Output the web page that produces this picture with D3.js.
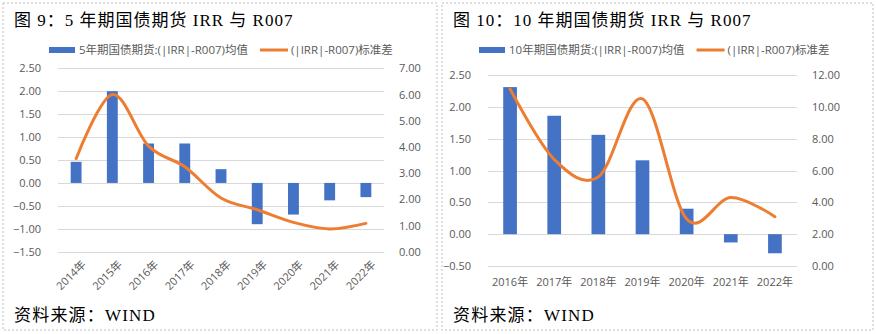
<!DOCTYPE html>
<html><head><meta charset="utf-8">
<script src="https://cdn.jsdelivr.net/npm/d3@7/dist/d3.min.js"></script>
<style>
body{margin:0;background:#fff;}
svg{display:block;}
</style></head>
<body>
<svg id="c" width="876" height="334"></svg>
<script>
// ---- data ----
const cats5 = ["2014年","2015年","2016年","2017年","2018年","2019年","2020年","2021年","2022年"];
const mean5 = [0.46, 2.00, 0.86, 0.86, 0.30, -0.90, -0.69, -0.38, -0.31];
const std5  = [3.55, 6.00, 4.03, 3.24, 2.05, 1.60, 1.12, 0.87, 1.08];
const leftTicks5 = [2.5, 2.0, 1.5, 1.0, 0.5, 0.0, -0.5, -1.0, -1.5];
const rightTicks5 = [7, 6, 5, 4, 3, 2, 1, 0];

const cats10 = ["2016年","2017年","2018年","2019年","2020年","2021年","2022年"];
const mean10 = [2.31, 1.86, 1.56, 1.16, 0.40, -0.13, -0.30];
const std10  = [11.12, 6.7, 5.6, 10.5, 2.95, 4.3, 3.1];
const leftTicks10 = [2.5, 2.0, 1.5, 1.0, 0.5, 0.0, -0.5];
const rightTicks10 = [12, 10, 8, 6, 4, 2, 0];

const titles = ["图 9：5 年期国债期货 IRR 与 R007", "图 10：10 年期国债期货 IRR 与 R007"];
const legBar = ["5年期国债期货:(|IRR|-R007)均值", "10年期国债期货:(|IRR|-R007)均值"];
const legLine = "(|IRR|-R007)标准差";
const source = "资料来源：WIND";

const BLUE = "#4472C4", ORANGE = "#ED7D31", GRID = "#D9D9D9", TXT = "#595959";
const serif = "'Liberation Serif','Noto Sans CJK SC',serif";
const sans = "'Open Sans','Noto Sans CJK SC',sans-serif";

const svg = d3.select("#c");

function panel(cfg){
  const g = svg.append("g");
  // border
  g.append("rect").attr("x", cfg.bx0).attr("y", 3).attr("width", cfg.bx1 - cfg.bx0).attr("height", 327)
    .attr("fill","none").attr("stroke","#BFBFBF").attr("stroke-dasharray","2,2").attr("stroke-width",1);
  g.append("text").attr("x", cfg.bx0 + 11).attr("y", 26).attr("font-family", serif).attr("font-size", 17)
    .attr("letter-spacing", 1).attr("fill","#000").text(cfg.title);
  g.append("text").attr("x", cfg.bx0 + 11).attr("y", 321).attr("font-family", serif).attr("font-size", 17)
    .attr("letter-spacing", 1.2).attr("fill","#000").text(source);

  const x = d3.scaleBand().domain(cfg.cats).range([cfg.x0, cfg.x1]).paddingInner(0).paddingOuter(0);
  const yl = d3.scaleLinear().domain([cfg.lmin, cfg.lmax]).range([cfg.y1, cfg.y0]);
  const yr = d3.scaleLinear().domain([cfg.rmin, cfg.rmax]).range([cfg.y1, cfg.y0]);

  // grid
  g.append("g").selectAll("line").data(cfg.lt).join("line")
    .attr("x1", cfg.x0).attr("x2", cfg.x1).attr("y1", d=>Math.round(yl(d))+0.5).attr("y2", d=>Math.round(yl(d))+0.5)
    .attr("stroke", GRID).attr("stroke-width",1);

  // left axis
  const la = g.append("g").attr("transform", `translate(${cfg.x0 - 14},0)`)
    .call(d3.axisLeft(yl).tickValues(cfg.lt).tickFormat(d3.format(".2f")).tickSize(0));
  la.select(".domain").remove();
  la.selectAll("text").attr("font-family", sans).attr("font-size", 11).attr("fill", TXT).attr("dx", 0);
  // right axis
  const ra = g.append("g").attr("transform", `translate(${cfg.x1 + 12},0)`)
    .call(d3.axisRight(yr).tickValues(cfg.rt).tickFormat(d3.format(".2f")).tickSize(0));
  ra.select(".domain").remove();
  ra.selectAll("text").attr("font-family", sans).attr("font-size", 11).attr("fill", TXT);

  // bars
  const bw = x.bandwidth() * cfg.barFrac;
  g.append("g").selectAll("rect").data(cfg.mean).join("rect")
    .attr("x", (d,i)=> x(cfg.cats[i]) + (x.bandwidth()-bw)/2)
    .attr("width", bw)
    .attr("y", d => yl(Math.max(0,d)))
    .attr("height", d => Math.abs(yl(d) - yl(0)))
    .attr("fill", BLUE);

  // line
  const line = d3.line().x((d,i)=> x(cfg.cats[i]) + x.bandwidth()/2).y(d=>yr(d)).curve(d3.curveCardinal.tension(0));
  g.append("path").datum(cfg.std).attr("d", line).attr("fill","none").attr("stroke", ORANGE)
    .attr("stroke-width", 3).attr("stroke-linecap","round");

  // x labels
  const xl = g.append("g");
  if (cfg.rotate){
    xl.selectAll("text").data(cfg.cats).join("text")
      .attr("transform", d => `translate(${x(d)+x.bandwidth()/2+5},${cfg.y1+8}) rotate(-45)`)
      .attr("text-anchor","end").attr("dy","0.7em")
      .attr("font-family", sans).attr("font-size", 11).attr("fill", TXT).text(d=>d);
  } else {
    xl.selectAll("text").data(cfg.cats).join("text")
      .attr("x", d => x(d)+x.bandwidth()/2).attr("y", cfg.y1 + 20)
      .attr("text-anchor","middle")
      .attr("font-family", sans).attr("font-size", 11).attr("fill", TXT).text(d=>d);
  }

  // legend
  const lg = g.append("g");
  lg.append("rect").attr("x", cfg.legX).attr("y", 47).attr("width", 26).attr("height", 6).attr("fill", BLUE);
  const t1 = lg.append("text").attr("x", cfg.legX + 30).attr("y", 54).attr("font-family", sans)
    .attr("font-size", 11.5).attr("fill", TXT).text(cfg.legBar);
  const w1 = t1.node().getComputedTextLength();
  const lx = cfg.legX + 30 + w1 + 12;
  lg.append("line").attr("x1", lx).attr("x2", lx+28).attr("y1", 50).attr("y2", 50)
    .attr("stroke", ORANGE).attr("stroke-width", 3);
  lg.append("text").attr("x", lx + 31).attr("y", 54).attr("font-family", sans)
    .attr("font-size", 11.5).attr("fill", TXT).text(legLine);
}

panel({bx0:3, bx1:437, title:titles[0], cats:cats5, mean:mean5, std:std5, lt:leftTicks5, rt:rightTicks5,
  x0:58, x1:384, y0:68.3, y1:251.7, lmin:-1.5, lmax:2.5, rmin:0, rmax:7, barFrac:0.3, rotate:true,
  legBar:legBar[0], legX:49});
panel({bx0:442, bx1:873, title:titles[1], cats:cats10, mean:mean10, std:std10, lt:leftTicks10, rt:rightTicks10,
  x0:488, x1:797, y0:75, y1:266, lmin:-0.5, lmax:2.5, rmin:0, rmax:12, barFrac:0.31, rotate:false,
  legBar:legBar[1], legX:479});
</script>
</body></html>
